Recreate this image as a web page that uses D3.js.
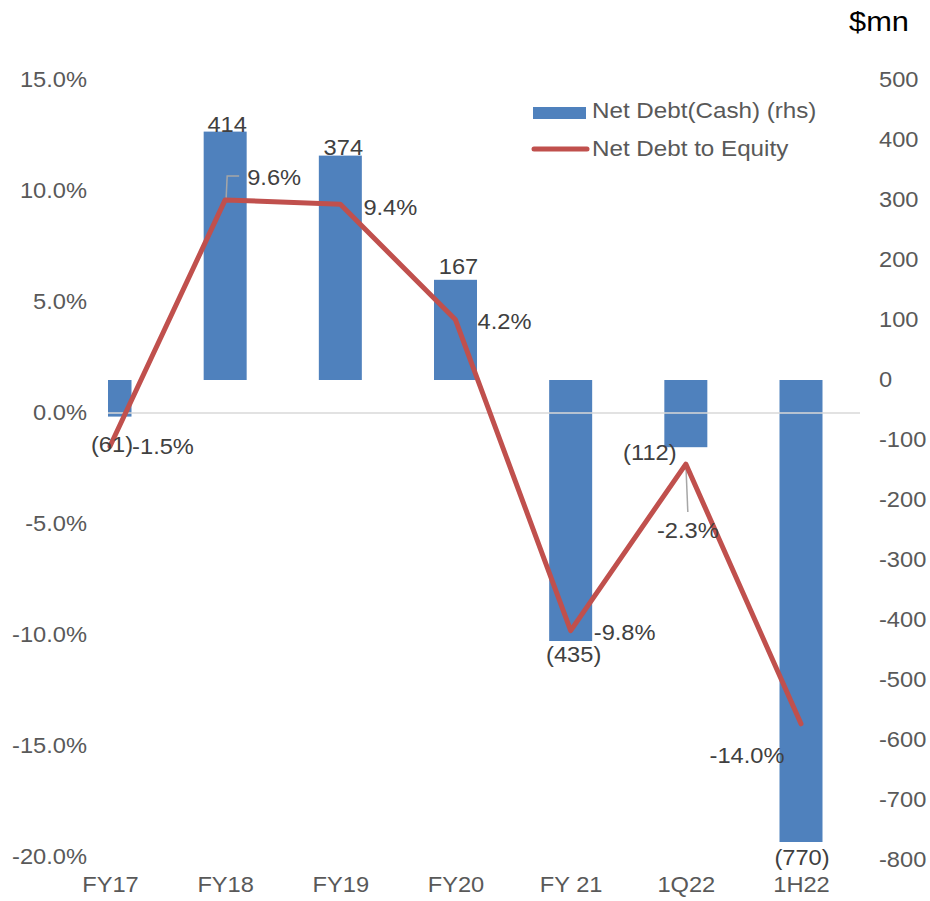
<!DOCTYPE html>
<html>
<head>
<meta charset="utf-8">
<script src="https://cdn.jsdelivr.net/npm/d3@7"></script>
<style>
  body { margin: 0; background: #fff; }
  svg { display: block; font-family: "Liberation Sans", Arial, sans-serif; }
</style>
</head>
<body>
<div id="chart"></div>
<script>
const categories = ["FY17", "FY18", "FY19", "FY20", "FY 21", "1Q22", "1H22"];
const netDebt = [-61, 414, 374, 167, -435, -112, -770];
const debtToEquity = [-0.015, 0.096, 0.094, 0.042, -0.098, -0.023, -0.140];
const leftTicks = [0.15, 0.10, 0.05, 0, -0.05, -0.10, -0.15, -0.20];
const rightTicks = [500, 400, 300, 200, 100, 0, -100, -200, -300, -400, -500, -600, -700, -800];

// label nudges (Excel labels were moved by hand)
const barLabelOffset = [[2, 35], [2, 0], [3, -1], [3, -6], [3, 21], [-36, 13], [1, 23]];
const lineLabelOffset = [[53, 8], [49, -15], [50, 11], [49, 9], [54, 9], [2, 74], [-54, 39]];

const width = 930,
    height = 901,
    plotLeft = 108,
    plotRight = 860,
    fontSize = 21.5,
    stretch = "scale(1.1,1)";

const svg = d3.select("#chart")
    .append("svg")
    .attr("width", width)
    .attr("height", height);

const x = d3.scalePoint()
    .domain(categories)
    .range([110, 801]);

const yL = d3.scaleLinear()
    .domain([-0.20, 0.15])
    .range([857, 80]);

const yR = d3.scaleLinear()
    .domain([-800, 500])
    .range([860, 80]);

const barWidth = 43;

// d3.format gives a unicode minus, Excel uses a hyphen
const hyphen = f => v => f(v).replace("\u2212", "-");
const fmtPct = hyphen(d3.format(".1%"));
const fmtInt = hyphen(d3.format("d"));
const fmtDebt = v => v < 0 ? `(${-v})` : `${v}`;

svg.append("clipPath")
    .attr("id", "plot")
    .append("rect")
    .attr("x", plotLeft)
    .attr("y", 0)
    .attr("width", plotRight - plotLeft)
    .attr("height", height);

// axes
const leftAxis = svg.append("g")
    .attr("transform", `translate(87,0)`)
    .call(d3.axisLeft(yL).tickValues(leftTicks).tickFormat(fmtPct).tickSize(0).tickPadding(0));

const rightAxis = svg.append("g")
    .attr("transform", `translate(879,0)`)
    .call(d3.axisRight(yR).tickValues(rightTicks).tickFormat(fmtInt).tickSize(0).tickPadding(0));

const bottomAxis = svg.append("g")
    .attr("transform", `translate(0,877)`)
    .call(d3.axisBottom(x).tickSize(0).tickPadding(0));

[leftAxis, rightAxis, bottomAxis].forEach(a => {
    a.select(".domain").remove();
    a.selectAll("text")
        .attr("transform", stretch)
        .style("font-size", fontSize + "px")
        .style("fill", "#595959")
        .style("font-family", "Liberation Sans, Arial, sans-serif");
});

// bars
const rows = categories.map((c, i) => ({ cat: c, debt: netDebt[i], ratio: debtToEquity[i], i: i }));

svg.append("g")
    .attr("clip-path", "url(#plot)")
    .selectAll("rect")
    .data(rows)
    .join("rect")
    .attr("fill", "#4F81BD")
    .attr("x", d => x(d.cat) - barWidth / 2)
    .attr("width", barWidth)
    .attr("y", d => Math.min(yR(d.debt), yR(0)))
    .attr("height", d => Math.abs(yR(d.debt) - yR(0)));

// zero line of the percent axis
svg.append("line")
    .attr("x1", plotLeft)
    .attr("x2", plotRight)
    .attr("y1", yL(0))
    .attr("y2", yL(0))
    .attr("stroke", "#D9D9D9")
    .attr("stroke-width", 1.5);

// leader lines
const leader = d3.line();
const p1 = [x("FY18"), yL(0.096)];
svg.append("path")
    .attr("d", leader([[p1[0] + 1, p1[1] - 2], [p1[0] + 2, p1[1] - 24], [p1[0] + 14, p1[1] - 24]]))
    .attr("fill", "none")
    .attr("stroke", "#A6A6A6")
    .attr("stroke-width", 1.5);
const p2 = [x("1Q22"), yL(-0.023)];
svg.append("path")
    .attr("d", leader([[p2[0], p2[1]], [p2[0] + 2, p2[1] + 48]]))
    .attr("fill", "none")
    .attr("stroke", "#A6A6A6")
    .attr("stroke-width", 1.5);

// line
svg.append("path")
    .datum(rows)
    .attr("fill", "none")
    .attr("stroke", "#C0504D")
    .attr("stroke-width", 5)
    .attr("stroke-linejoin", "round")
    .attr("stroke-linecap", "round")
    .attr("d", d3.line().x(d => x(d.cat)).y(d => yL(d.ratio)));

function addText(px, py, str, anchor, size, color) {
    return svg.append("text")
        .attr("transform", `translate(${px},${py}) ${stretch}`)
        .attr("text-anchor", anchor)
        .style("font-size", size + "px")
        .style("fill", color)
        .text(str);
}

rows.forEach(d => {
    const o = barLabelOffset[d.i];
    addText(x(d.cat) + o[0], yR(d.debt) + o[1], fmtDebt(d.debt), "middle", fontSize, "#404040");
    const p = lineLabelOffset[d.i];
    addText(x(d.cat) + p[0], yL(d.ratio) + p[1], fmtPct(d.ratio), "middle", fontSize, "#404040");
});

// legend
svg.append("rect")
    .attr("x", 533)
    .attr("y", 107)
    .attr("width", 53)
    .attr("height", 12)
    .attr("fill", "#4F81BD");
addText(592, 118, "Net Debt(Cash) (rhs)", "start", 22, "#595959");

svg.append("line")
    .attr("x1", 534)
    .attr("x2", 587)
    .attr("y1", 149)
    .attr("y2", 149)
    .attr("stroke", "#C0504D")
    .attr("stroke-width", 5)
    .attr("stroke-linecap", "round");
addText(592, 156, "Net Debt to Equity", "start", 22, "#595959");

// unit
addText(909, 31, "$mn", "end", 28, "#000000");
</script>
</body>
</html>
